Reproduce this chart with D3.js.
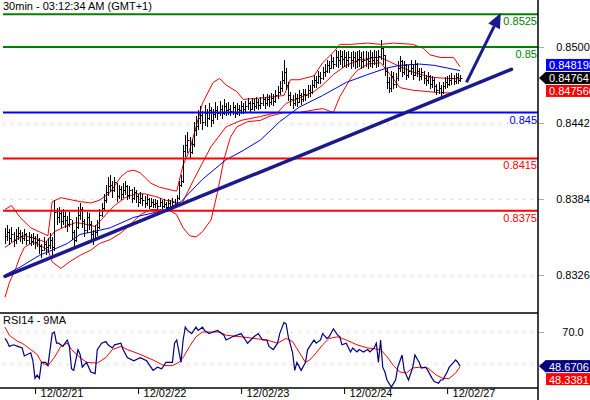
<!DOCTYPE html>
<html>
<head>
<meta charset="utf-8">
<script src="https://cdn.jsdelivr.net/npm/d3@7"></script>
<style>
  body { margin: 0; background: #fff; }
  svg { display: block; font-family: "Liberation Sans", Arial, sans-serif; font-size: 11px; }
</style>
</head>
<body>
<div id="chart"></div>
<script>
// 30 min bars, index 0 = 12/02/20 16:30
var closes = [
  .8356,.8359,.8354,.8357,.8353,.8356,.8358, .8356,.8354,.8357,.8353,.8355,.8352,.8354,
  .8351,.8353,.8348,.8345,.8350,.8347,.8349, .8353,.8347, .8374,
  .8370,.8373,.8367,.8371,.8368,.8365,.8369, .8359,.8353,
  .8363,.8372,.8376,.8367,.8360,.8370,.8365,.8357,.8354,
  .8359,.8363,.8372,.8377,.8383,.8389,.8394, .8395,.8391,.8397,.8386,.8392,.8388,.8391,
  .8394,.8387,.8391,.8385,.8389,.8386,.8382, .8385,.8383,.8381,.8384,.8379,.8382,.8380,
  .8381,.8379,.8382,.8379,.8380,.8378,.8381, .8379,.8382,.8380, .8385,.8395,.8398,
  .8421,.8425,.8429,.8420,.8426, .8437,.8440,.8446,
  .8448,.8443,.8450,.8446,.8452,.8444,.8449, .8452,.8450,.8453,.8450,.8455,.8452,.8453,
  .8451,.8454,.8450,.8453,.8452,.8455,.8453, .8455,.8457,.8453,.8457,.8455,.8458,.8456,
  .8457,.8460,.8457,.8460,.8458,.8461,.8459, .8463,.8466,.8469,.8475,.8481,
  .8471,.8463,.8460,.8457, .8461,.8458,.8463,.8460,.8464,
  .8463,.8467,.8466,.8471,.8475,.8473,.8478, .8476,.8481,.8482,.8486,.8484,.8489,.8487,
  .8492,.8490,.8493,.8491,.8492,.8490,.8492, .8490,.8492,.8489,.8491,.8492,.8489,.8490,
  .8491,.8489,.8492,.8490,.8492,.8490,.8493, .8499,.8494, .8482,.8473,.8469,.8478,.8472,
  .8476,.8484,.8489,.8481,.8486,.8479,.8482, .8484,.8479,.8487,.8482,.8478,.8481,.8476,
  .8475,.8478,.8472,.8475,.8470,.8467,.8469, .8466,.8470,.8473,.8472,.8475,.8476,.8474,
  .8477,.8475,.84764
];
var highs = [
  .8362,.8364,.8361,.8363,.8359,.8361,.8363, .8360,.8359,.8361,.8358,.8359,.8357,.8358,
  .8356,.8357,.8354,.8350,.8355,.8352,.8354, .8358,.8355, .8383,
  .8377,.8378,.8375,.8376,.8374,.8371,.8374, .8368,.8360,
  .8370,.8378,.8381,.8378,.8369,.8374,.8373,.8367,.8360,
  .8364,.8368,.8376,.8381,.8388,.8395,.8401, .8402,.8398,.8401,.8396,.8395,.8394,.8396,
  .8398,.8395,.8394,.8392,.8393,.8391,.8388, .8389,.8388,.8386,.8387,.8385,.8385,.8384,
  .8384,.8383,.8385,.8383,.8384,.8382,.8384, .8383,.8385,.8384, .8387,.8398,.8402,
  .8425,.8433,.8435,.8431,.8430, .8443,.8447,.8452,
  .8455,.8451,.8456,.8453,.8457,.8454,.8453, .8458,.8455,.8459,.8456,.8460,.8457,.8458,
  .8456,.8458,.8456,.8457,.8456,.8459,.8457, .8459,.8461,.8459,.8461,.8460,.8462,.8460,
  .8462,.8464,.8462,.8464,.8463,.8465,.8464, .8467,.8470,.8474,.8482,.8490,
  .8484,.8473,.8466,.8463, .8465,.8464,.8467,.8465,.8468,
  .8468,.8471,.8471,.8475,.8479,.8478,.8482, .8481,.8485,.8487,.8490,.8489,.8494,.8492,
  .8498,.8497,.8498,.8497,.8498,.8496,.8497, .8496,.8497,.8496,.8497,.8498,.8496,.8497,
  .8497,.8496,.8498,.8496,.8498,.8497,.8498, .8505,.8501, .8494,.8484,.8477,.8482,.8481,
  .8480,.8489,.8493,.8490,.8489,.8487,.8486, .8490,.8486,.8490,.8488,.8484,.8484,.8482,
  .8479,.8481,.8479,.8478,.8476,.8472,.8473, .8471,.8473,.8477,.8478,.8479,.8480,.8479,
  .8480,.8480,.8479
];
var lows = [
  .8350,.8352,.8349,.8351,.8347,.8350,.8353, .8351,.8350,.8352,.8349,.8350,.8348,.8349,
  .8346,.8347,.8342,.8339,.8344,.8341,.8343, .8346,.8341, .8344,
  .8364,.8366,.8362,.8364,.8362,.8359,.8363, .8353,.8347,
  .8351,.8361,.8368,.8362,.8355,.8358,.8360,.8351,.8349,
  .8352,.8356,.8361,.8370,.8375,.8381,.8386, .8389,.8385,.8389,.8382,.8384,.8383,.8385,
  .8387,.8383,.8384,.8381,.8383,.8381,.8378, .8380,.8379,.8377,.8379,.8376,.8378,.8377,
  .8377,.8376,.8378,.8376,.8377,.8375,.8377, .8376,.8378,.8377, .8378,.8383,.8393,
  .8396,.8416,.8419,.8415,.8418, .8424,.8432,.8437,
  .8441,.8437,.8440,.8439,.8444,.8439,.8441, .8446,.8444,.8447,.8445,.8448,.8447,.8448,
  .8447,.8448,.8446,.8448,.8447,.8449,.8449, .8450,.8452,.8450,.8452,.8451,.8453,.8452,
  .8453,.8455,.8453,.8455,.8454,.8456,.8455, .8457,.8460,.8463,.8466,.8472,
  .8467,.8459,.8455,.8453, .8455,.8454,.8457,.8456,.8458,
  .8459,.8461,.8462,.8464,.8469,.8469,.8472, .8472,.8475,.8477,.8480,.8480,.8483,.8483,
  .8485,.8484,.8486,.8484,.8485,.8484,.8485, .8483,.8485,.8483,.8484,.8485,.8483,.8484,
  .8485,.8483,.8485,.8484,.8486,.8484,.8485, .8490,.8486, .8478,.8468,.8465,.8466,.8468,
  .8469,.8474,.8481,.8477,.8479,.8475,.8476, .8479,.8475,.8478,.8477,.8474,.8475,.8472,
  .8470,.8472,.8468,.8469,.8466,.8463,.8464, .8462,.8464,.8468,.8469,.8470,.8471,.8471,
  .8472,.8472,.8473
];

// overlays as [bar index, value]
var upperBand = [[0,.8376],[3,.8379],[7,.8370],[12,.8362],[16,.8359],[20,.8356],[22,.8382],[26,.8385],
  [29,.8384],[35,.8382],[40,.8381],[44,.8383],[49,.8389],[54,.8401],[57,.8405],[60,.8406],[63,.8404],
  [68,.8396],[72,.8393],[77,.8391],[80,.8390],[83,.8410],[86,.8421],[92,.8457],[97,.8473],[100,.8476],
  [103,.8471],[108,.8466],[111,.8460],[119,.8461],[125,.8462],[130,.8463],[133,.8475],[137,.8475],
  [144,.8478],[148,.8488],[153,.8496],[156,.8502],[161,.8502],[169,.8503],[175,.8502],[181,.8503],
  [190,.8502],[195,.8499],[198,.8494],[203,.8492],[209,.8492],[212,.8485]];
var midBand = [[0,.8347],[5,.8353],[9,.8356],[14,.8354],[19,.8351],[23,.8359],[28,.8363],[33,.8366],
  [37,.8365],[42,.8363],[47,.8372],[51,.8379],[56,.8385],[61,.8388],[65,.8388],[70,.8386],[75,.8383],
  [79,.8382],[82,.8379],[88,.8399],[96,.8424],[103,.8439],[110,.8444],[119,.8447],[127,.8450],
  [131,.8457],[137,.8461],[144,.8466],[148,.8471],[153,.8479],[159,.8486],[165,.8490],[172,.8492],
  [175,.8492],[179,.8489],[184,.8485],[190,.8481],[198,.8477],[206,.8476],[212,.847566]];
var lowerBand = [[0,.8309],[2,.8320],[5,.8331],[7,.8340],[9,.8347],[13,.8351],[17,.8348],[20,.8345],
  [22,.8336],[26,.8331],[30,.8336],[35,.8341],[40,.8345],[44,.8350],[49,.8353],[54,.8358],[58,.8364],
  [63,.8372],[68,.8376],[72,.8376],[77,.8375],[80,.8372],[83,.8362],[86,.8356],[89,.8355],[92,.8359],
  [96,.8368],[99,.8389],[102,.8414],[105,.8431],[108,.8439],[113,.8443],[119,.8444],[123,.8447],
  [130,.8450],[134,.8450],[137,.8450],[144,.8452],[148,.8453],[153,.8450],[156,.8462],[161,.8476],
  [164,.8482],[169,.8487],[175,.8488],[179,.8480],[184,.8469],[190,.8467],[197,.8466],[203,.8465],
  [209,.8465],[212,.8466]];
var movingAvg = [[0,.8326],[7,.8332],[16,.8341],[22,.8345],[29,.8350],[35,.8357],[41,.8359],[49,.8362],
  [60,.8370],[68,.8373],[75,.8376],[82,.8382],[92,.8399],[103,.8414],[111,.8421],[119,.8429],
  [128,.8443],[137,.8454],[148,.8463],[159,.8473],[169,.8479],[178,.8484],[184,.8486],[193,.8487],
  [200,.8486],[206,.8484],[212,.848198]];

var rsi = [[0,66],[1,64],[2,61],[4,62],[6,61],[8,60],[9,55],[12,57],[13,52],[14,41],[15,43],[16,41],
  [17,51],[19,51],[20,49],[22,69],[23,70],[24,63],[25,63],[27,61],[28,63],[29,65],[30,61],[31,47],
  [32,46],[34,59],[35,56],[36,48],[38,51],[40,45],[42,44],[43,59],[45,63],[47,64],[48,62],[50,60],
  [51,62],[54,63],[55,59],[57,54],[60,52],[63,54],[66,52],[69,46],[71,48],[73,47],[75,51],[78,51],
  [79,63],[80,65],[82,51],[83,65],[84,73],[85,71],[87,69],[89,73],[90,71],[92,73],[93,71],[95,69],
  [97,70],[99,71],[102,68],[103,65],[106,67],[110,69],[112,65],[113,63],[116,67],[118,69],[120,65],
  [122,65],[123,61],[125,59],[127,63],[128,69],[130,76],[131,75],[132,67],[134,57],[135,46],[136,51],
  [138,46],[140,51],[141,59],[143,63],[144,65],[145,63],[147,65],[148,69],[150,66],[151,67],[153,72],
  [155,68],[156,67],[157,62],[159,63],[161,57.5],[162,60],[164,57.5],[165,59],[167,57.5],[169,59],
  [170,57.5],[172,60],[173,63],[174,51],[175,65],[176,48],[177,45],[178,40],[180,35.6],[182,40],
  [183,48],[185,55.6],[186,46],[188,40],[190,48],[191,55.6],[193,51],[194,47.5],[196,48],[197,46],
  [199,41],[200,39],[202,38],[203,40],[204,40],[206,45],[207,48],[209,51],[210,52.5],[211,51],
  [212,48.6706]];
var rsiMa = [[0,73],[2,68],[6,64],[8,63],[12,59],[15,56],[17,51],[20,49],[23,54],[26,61],[29,63],
  [31,59],[35,54],[38,51],[43,50.6],[47,54],[50,59],[54,61],[57,59],[63,56],[69,52.5],[74,49],[78,49],
  [81,51],[83,54],[86,61],[89,67],[92,70],[97,70],[100,70],[103,68],[110,67],[116,66],[122,65],
  [127,63],[131,66],[134,64],[137,57.5],[140,51],[142,52.5],[145,57],[148,62],[151,66],[155,67],
  [159,65],[164,62],[169,60],[175,59],[178,54.6],[181,49],[184,45],[187,44.4],[190,47.5],[193,48],
  [197,47.5],[201,43],[204,41],[207,41],[210,44.4],[212,48.3381]];

var levels = [0.8525, 0.85, 0.845, 0.8415, 0.8375];
var levelLabels = ['0.8525', '0.85', '0.845', '0.8415', '0.8375'];
var levelColors = ['#008000', '#008000', '#0000ff', '#ff0000', '#ff0000'];
var trendLine = [[0, 0.8325], [236, 0.8483]];
var arrowLine = [[215, 0.8473], [231, 0.8526]];

var priceTicks = [0.8500, 0.8442, 0.8384, 0.8326];
var rsiTicks = [70, 50];
var dayStarts = [14, 62, 110, 158, 206];
var dayLabels = ['12/02/21', '12/02/22', '12/02/23', '12/02/24', '12/02/27'];
var priceTags = [0.848198, 0.84764, 0.847566];
var rsiTags = [48.6706, 48.3381];

var width = 590, height = 400, axisX = 538;
var svg = d3.select('#chart').append('svg')
    .attr('width', width)
    .attr('height', height);

var x = d3.scaleLinear().domain([0, 212]).range([5, 460]);
var y = d3.scaleLinear().domain([0.8326, 0.85]).range([275, 47]);
var yr = d3.scaleLinear().domain([50, 70]).range([364, 332]);

// dotted grid
svg.append('g').selectAll('line')
    .data(priceTicks.map(y).concat(rsiTicks.map(yr)))
    .enter().append('line')
    .attr('x1', 3).attr('x2', 532)
    .attr('y1', function(d) { return Math.round(d) + 0.5; })
    .attr('y2', function(d) { return Math.round(d) + 0.5; })
    .attr('stroke', '#b8b8b8')
    .attr('stroke-dasharray', '1,7');

// right axes
var priceAxis = d3.axisRight(y).tickValues(priceTicks).tickSize(6).tickPadding(0)
    .tickFormat(d3.format('.4f'));
var gp = svg.append('g').attr('transform', 'translate(' + axisX + ',0)').call(priceAxis);

var rsiAxis = d3.axisRight(yr).tickValues(rsiTicks).tickSize(6).tickPadding(0)
    .tickFormat(d3.format('.1f'));
var gr = svg.append('g').attr('transform', 'translate(' + axisX + ',0)').call(rsiAxis);

[gp, gr].forEach(function(g) {
    g.select('.domain').remove();
    g.selectAll('line').attr('stroke', '#aaa');
    g.selectAll('text')
        .attr('x', 35).attr('dy', '0.35em')
        .attr('text-anchor', 'middle')
        .attr('fill', '#000')
        .style('font-size', '11px')
        .style('font-family', '"Liberation Sans", Arial, sans-serif');
});

// bollinger bands + moving average
var line = d3.line()
    .x(function(d) { return x(d[0]); })
    .y(function(d) { return y(d[1]); });

[upperBand, midBand, lowerBand].forEach(function(band) {
    svg.append('path').datum(band)
        .attr('d', line)
        .attr('fill', 'none')
        .attr('stroke', '#ff0000')
        .attr('stroke-width', 1);
});
svg.append('path').datum(movingAvg)
    .attr('d', line)
    .attr('fill', 'none')
    .attr('stroke', '#0000ff')
    .attr('stroke-width', 1);

// bars (high-low with close tick)
var bars = closes.map(function(c, i) { return {i: i, h: highs[i], l: lows[i], c: c}; });
svg.append('g').selectAll('path')
    .data(bars)
    .enter().append('path')
    .attr('d', function(d) {
        var px = Math.round(x(d.i)) + 0.5;
        var pc = Math.round(y(d.c)) + 0.5;
        return 'M' + px + ',' + Math.round(y(d.h)) + 'V' + Math.round(y(d.l)) +
            'M' + px + ',' + pc + 'H' + (px + 2);
    })
    .attr('fill', 'none')
    .attr('stroke', '#000')
    .attr('stroke-width', 1);

// support / resistance levels
svg.append('g').selectAll('line')
    .data(levels)
    .enter().append('line')
    .attr('x1', 3).attr('x2', axisX)
    .attr('y1', function(d) { return y(d); })
    .attr('y2', function(d) { return y(d); })
    .attr('stroke', function(d, i) { return levelColors[i]; })
    .attr('stroke-width', 2);

svg.append('g').selectAll('text')
    .data(levels)
    .enter().append('text')
    .attr('x', axisX - 1)
    .attr('y', function(d) { return y(d) + 11; })
    .attr('text-anchor', 'end')
    .attr('fill', function(d, i) { return levelColors[i]; })
    .text(function(d, i) { return levelLabels[i]; });

// trend line and target arrow
svg.append('path').datum(trendLine)
    .attr('d', line)
    .attr('stroke', '#1a1a8c')
    .attr('stroke-width', 3.5)
    .attr('stroke-linecap', 'round');

var a0 = [x(arrowLine[0][0]), y(arrowLine[0][1])];
var a1 = [x(arrowLine[1][0]), y(arrowLine[1][1])];
var dx = a1[0] - a0[0], dy = a1[1] - a0[1];
var len = Math.sqrt(dx * dx + dy * dy);
var ux = dx / len, uy = dy / len;
var headLen = 15, headW = 6.5;
var bx = a1[0] - ux * headLen, by = a1[1] - uy * headLen;

svg.append('line')
    .attr('x1', a0[0]).attr('y1', a0[1])
    .attr('x2', bx).attr('y2', by)
    .attr('stroke', '#1a1a8c')
    .attr('stroke-width', 3);
svg.append('path')
    .attr('d', 'M' + a1[0] + ',' + a1[1] +
        'L' + (bx - uy * headW) + ',' + (by + ux * headW) +
        'L' + (bx + uy * headW) + ',' + (by - ux * headW) + 'Z')
    .attr('fill', '#1a1a8c');

// RSI panel
var rline = d3.line()
    .x(function(d) { return x(d[0]); })
    .y(function(d) { return yr(d[1]); });

svg.append('path').datum(rsiMa)
    .attr('d', rline)
    .attr('fill', 'none')
    .attr('stroke', '#ff0000')
    .attr('stroke-width', 1);
svg.append('path').datum(rsi)
    .attr('d', rline)
    .attr('fill', 'none')
    .attr('stroke', '#000080')
    .attr('stroke-width', 1.2);

svg.append('line').attr('x1', 0).attr('x2', axisX).attr('y1', 313).attr('y2', 313)
    .attr('stroke', '#000').attr('stroke-width', 1.5);
svg.append('line').attr('x1', 0).attr('x2', axisX).attr('y1', 388).attr('y2', 388)
    .attr('stroke', '#000').attr('stroke-width', 1.5);
svg.append('line').attr('x1', axisX).attr('x2', axisX).attr('y1', 0).attr('y2', height)
    .attr('stroke', '#000').attr('stroke-width', 1.5);

// time axis
var xAxis = d3.axisBottom(x).tickValues(dayStarts).tickSize(6).tickPadding(0)
    .tickFormat(function(d, i) { return dayLabels[i]; });
var gx = svg.append('g').attr('transform', 'translate(0,388)').call(xAxis);
gx.select('.domain').remove();
gx.selectAll('line').attr('stroke', '#000');
gx.selectAll('text')
    .attr('x', 5).attr('y', 1)
    .attr('text-anchor', 'start')
    .attr('fill', '#000')
    .style('font-size', '11px')
    .style('font-family', '"Liberation Sans", Arial, sans-serif');

// titles
svg.append('text').attr('x', 3).attr('y', 10).text('30min - 03:12:34 AM (GMT+1)');
svg.append('text').attr('x', 3).attr('y', 324).text('RSI14 - 9MA');

// value tags on the right
function tag(cy, label, color, arrow) {
    var top = cy - 6;
    if (arrow) {
        svg.append('path')
            .attr('d', 'M' + (axisX + 1) + ',' + cy + 'L546,' + (top - 0.5) + 'L546,' + (top + 12.5) + 'Z')
            .attr('fill', color);
    }
    svg.append('rect').attr('x', 546).attr('y', top).attr('width', 50).attr('height', 12)
        .attr('fill', color);
    svg.append('text').attr('x', 549).attr('y', top + 10.5)
        .attr('fill', '#fff').text(label);
}
var lastY = y(priceTags[1]);
tag(lastY - 13, priceTags[0].toFixed(6), '#0000ff', false);
tag(lastY, String(priceTags[1]), '#000', true);
tag(lastY + 13, priceTags[2].toFixed(6), '#ff0000', false);

var rsiY = yr(rsiTags[0]);
tag(rsiY, rsiTags[0].toFixed(4), '#000080', true);
tag(rsiY + 13, rsiTags[1].toFixed(4), '#ff0000', false);
</script>
</body>
</html>
